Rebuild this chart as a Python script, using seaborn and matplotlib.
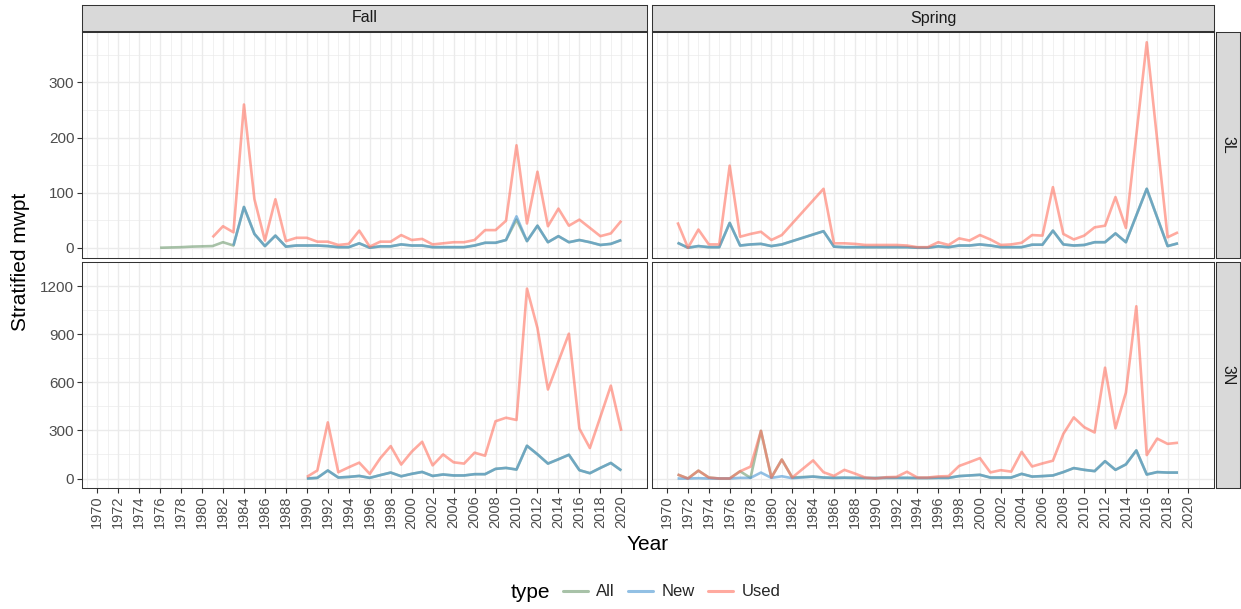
import matplotlib
matplotlib.use("Agg")
import numpy as np
import pandas as pd
import matplotlib.pyplot as plt
import seaborn as sns
from matplotlib.lines import Line2D

# ---------------- data ----------------
types = ["All", "New", "Used"]
seasons = ["Fall", "Spring"]
divisions = ["3L", "3N"]
x_ticks = list(range(1970, 2021, 2))
y_ticks_3L = [0, 100, 200, 300]
y_ticks_3N = [0, 300, 600, 900, 1200]

# Fall 3L
fall_3L_all_years = list(range(1976, 2021))
fall_3L_all = [0, 0.5, 1, 2, 2.5, 3, 10, 4, 74, 25, 3, 22, 2, 4, 4, 4, 3, 1, 1, 8,
               0, 2.5, 2.5, 6, 4, 4, 1, 1, 1, 1, 4, 9, 9, 14, 51, 12, 40, 10, 21, 10,
               14, 10, 5, 7, 14]
fall_3L_new_years = list(range(1983, 2021))
fall_3L_new = [4, 74, 25, 3, 22, 2, 4, 4, 4, 3, 1, 1, 8, 0, 2.5, 2.5, 6, 4, 4, 1,
               1, 1, 1, 4, 9, 9, 14, 57, 12, 40, 10, 21, 10, 14, 10, 5, 7, 14]
fall_3L_used_years = list(range(1981, 2021))
fall_3L_used = [19, 39, 28, 260, 88, 13, 88, 12, 18, 18, 11, 11, 5, 7, 31, 2, 11, 11, 23, 14,
                16, 6, 8, 10, 10, 14, 32, 32, 49, 186, 44, 138, 39, 71, 40, 51, 36, 21, 26, 49]

# Fall 3N
fall_3N_years = list(range(1990, 2021))
fall_3N_all = [0, 4, 50, 6, 10, 16, 4, 21, 37, 14, 29, 41, 16, 25, 19, 19, 27, 27, 60, 66,
               56, 204, 151, 93, 120, 148, 52, 33, 66, 97, 50]
fall_3N_new = [0, 4, 50, 6, 10, 16, 4, 21, 37, 14, 29, 41, 16, 25, 19, 19, 27, 27, 60, 66,
               56, 204, 151, 93, 120, 148, 52, 33, 66, 97, 50]
fall_3N_used = [10, 50, 350, 39, 70, 99, 29, 126, 202, 87, 167, 229, 82, 150, 101, 93, 161, 142, 357, 379,
                365, 1184, 938, 555, 730, 903, 311, 190, 384, 579, 297]

# Spring 3L (no surveys 1982-1984, 2015, 2017)
spring_3L_years = [1971, 1972, 1973, 1974, 1975, 1976, 1977, 1978, 1979, 1980, 1981,
                   1985, 1986, 1987, 1988, 1989, 1990, 1991, 1992, 1993, 1994, 1995, 1996,
                   1997, 1998, 1999, 2000, 2001, 2002, 2003, 2004, 2005, 2006, 2007, 2008,
                   2009, 2010, 2011, 2012, 2013, 2014, 2016, 2018, 2019]
spring_3L_all = [9, 0, 3, 1, 1, 45, 4, 6, 7, 3, 6,
                 30, 2, 1, 1, 1, 1, 1, 1, 1, 0, 0, 2.5,
                 1, 4, 4, 6, 4, 1, 1, 1, 5.5, 5.5, 31, 6,
                 4, 5, 10, 10, 26, 10, 107, 3, 8]
spring_3L_new = [9, 0, 3, 1, 1, 45, 4, 6, 7, 3, 6,
                 30, 2, 1, 1, 1, 1, 1, 1, 1, 0, 0, 2.5,
                 1, 4, 4, 6, 4, 1, 1, 1, 5.5, 5.5, 31, 6,
                 4, 5, 10, 10, 26, 10, 107, 3, 8]
spring_3L_used = [46, 0, 33, 6, 6, 149, 20, 25, 29, 14, 23,
                  107, 8, 8, 7, 5, 5, 5, 5, 4, 1, 1, 10,
                  5, 17, 13, 23, 15, 5, 6, 9, 23, 22, 110, 25,
                  15, 22, 37, 40, 92, 36, 373, 19, 28]

# Spring 3N (no survey 1983)
spring_3N_years = [1971, 1972, 1973, 1974, 1975, 1976, 1977, 1978, 1979, 1980, 1981, 1982,
                   1984, 1985, 1986, 1987, 1988, 1989, 1990, 1991, 1992, 1993,
                   1994, 1995, 1996, 1997, 1998, 1999, 2000, 2001, 2002, 2003,
                   2004, 2005, 2006, 2007, 2008, 2009, 2010, 2011, 2012, 2013,
                   2014, 2015, 2016, 2017, 2018, 2019]
spring_3N_all = [25, 0, 49, 6, 0, 0, 45, 4, 297, 6, 118, 6,
                 12, 6, 4, 5, 4, 3, 3, 4, 4, 4,
                 3, 3, 4, 4, 15, 19, 23, 6, 6, 6,
                 29, 12, 15, 19, 40, 65, 54, 46, 108, 54,
                 88, 175, 25, 40, 37, 37]
spring_3N_new = [0, 0, 2, 0, 0, 0, 4, 4, 37, 4, 14, 2,
                 12, 6, 4, 5, 4, 3, 3, 4, 4, 4,
                 3, 3, 4, 4, 15, 19, 23, 6, 6, 6,
                 29, 12, 15, 19, 40, 65, 54, 46, 108, 54,
                 88, 175, 25, 40, 37, 37]
spring_3N_used = [25, 0, 49, 6, 0, 0, 45, 74, 297, 6, 118, 6,
                  113, 39, 16, 54, 31, 6, 0, 8, 10, 42,
                  6, 6, 13, 15, 78, 102, 127, 38, 52, 43,
                  166, 75, 94, 111, 278, 381, 320, 287, 691, 313,
                  536, 1074, 146, 249, 216, 223]

palette = {"All": "#6E9A6E", "New": "#4A96D2", "Used": "#FF7260"}


def frame(parts):
    rows = []
    for t, yrs, vals in parts:
        rows.append(pd.DataFrame({"Year": yrs, "value": vals, "type": t}))
    return pd.concat(rows, ignore_index=True)


panel_data = {
    ("Fall", "3L"): frame([("All", fall_3L_all_years, fall_3L_all),
                           ("New", fall_3L_new_years, fall_3L_new),
                           ("Used", fall_3L_used_years, fall_3L_used)]),
    ("Fall", "3N"): frame([("All", fall_3N_years, fall_3N_all),
                           ("New", fall_3N_years, fall_3N_new),
                           ("Used", fall_3N_years, fall_3N_used)]),
    ("Spring", "3L"): frame([("All", spring_3L_years, spring_3L_all),
                             ("New", spring_3L_years, spring_3L_new),
                             ("Used", spring_3L_years, spring_3L_used)]),
    ("Spring", "3N"): frame([("All", spring_3N_years, spring_3N_all),
                             ("New", spring_3N_years, spring_3N_new),
                             ("Used", spring_3N_years, spring_3N_used)]),
}

# ---------------- styling / layout ----------------
sns.set_theme(style="white")
plt.rcParams['font.family'] = ['Liberation Sans', 'DejaVu Sans']

W, H = 1241, 609
fig = plt.figure(figsize=(W / 100, H / 100), dpi=100)
fig.patch.set_facecolor("white")


def px_axes(x0, y0, x1, y1):
    return fig.add_axes([x0 / W, 1 - y1 / H, (x1 - x0) / W, (y1 - y0) / H])


col_x = {"Fall": (82, 647), "Spring": (652, 1214)}
row_y = {"3L": (32, 258), "3N": (262, 488)}

all_years = pd.concat([d["Year"] for d in panel_data.values()])
xmin, xmax = all_years.min(), all_years.max()
xpad = 0.05 * (xmax - xmin)

row_lim = {}
for div in divisions:
    vals = pd.concat([panel_data[(s, div)]["value"] for s in seasons])
    lo, hi = min(0, vals.min()), vals.max()
    pad = 0.05 * (hi - lo)
    row_lim[div] = (lo - pad, hi + pad)

yticks = {"3L": y_ticks_3L, "3N": y_ticks_3N}
grid_c = "#EBEBEB"
border_c = "#333333"
tick_c = "#4D4D4D"

for season in seasons:
    for div in divisions:
        x0, x1 = col_x[season]
        y0, y1 = row_y[div]
        ax = px_axes(x0, y0, x1, y1)
        ax.set_facecolor("white")
        sns.lineplot(data=panel_data[(season, div)], x="Year", y="value", hue="type",
                     hue_order=types, palette=palette, alpha=0.6, linewidth=1.9,
                     legend=False, estimator=None, sort=True, ax=ax,
                     solid_capstyle="butt", solid_joinstyle="round")
        ax.set_xlim(xmin - xpad, xmax + xpad)
        ax.set_ylim(*row_lim[div])
        ax.set_xticks(x_ticks)
        ax.set_xticks([y + 1 for y in x_ticks[:-1]] + [1969, 2021], minor=True)
        yt = yticks[div]
        ax.set_yticks(yt)
        step = yt[1] - yt[0]
        ax.set_yticks([v + step / 2 for v in yt], minor=True)
        ax.grid(True, which="major", color=grid_c, linewidth=1.0, zorder=0)
        ax.grid(True, which="minor", color=grid_c, linewidth=0.5, zorder=0)
        ax.set_axisbelow(True)
        for sp in ax.spines.values():
            sp.set_visible(True)
            sp.set_color(border_c)
            sp.set_linewidth(0.75)
        ax.set_xlabel("")
        ax.set_ylabel("")
        ax.tick_params(which="minor", length=0)
        show_x = div == "3N"
        show_y = season == "Fall"
        ax.tick_params(axis="x", which="major", bottom=show_x, labelbottom=show_x,
                       length=3.5, width=0.8, color=border_c, labelsize=10.5,
                       labelcolor=tick_c, labelrotation=90, pad=2)
        ax.tick_params(axis="y", which="major", left=show_y, labelleft=show_y,
                       length=3.5, width=0.8, color=border_c, labelsize=11,
                       labelcolor=tick_c, pad=2)
        if show_x:
            ax.set_xticklabels([str(v) for v in x_ticks])

# strips
strip_fill = "#D9D9D9"
for season in seasons:
    x0, x1 = col_x[season]
    sax = px_axes(x0, 5, x1, 31)
    sax.set_facecolor(strip_fill)
    sax.set_xticks([]); sax.set_yticks([])
    for sp in sax.spines.values():
        sp.set_color(border_c); sp.set_linewidth(0.75)
    sax.text(0.5, 0.5, season, ha="center", va="center", fontsize=11.5,
             color="#1A1A1A", transform=sax.transAxes)
for div in divisions:
    y0, y1 = row_y[div]
    sax = px_axes(1216, y0, 1240, y1)
    sax.set_facecolor(strip_fill)
    sax.set_xticks([]); sax.set_yticks([])
    for sp in sax.spines.values():
        sp.set_color(border_c); sp.set_linewidth(0.75)
    sax.text(0.5, 0.5, div, ha="center", va="center", fontsize=11.5, rotation=-90,
             color="#1A1A1A", transform=sax.transAxes)

# axis titles
fig.text(648 / W, 1 - 545 / H, "Year", ha="center", va="center", fontsize=15, color="black")
fig.text(21 / W, 1 - 262 / H, "Stratified mwpt", ha="center", va="center",
         rotation=90, fontsize=15, color="black")

# legend
fig.text(511 / W, 1 - 592 / H, "type", ha="left", va="center", fontsize=15, color="black")
handles = [Line2D([0], [0], color=palette[t], alpha=0.6, linewidth=2.2) for t in types]
fig.legend(handles, types, loc="center left", bbox_to_anchor=(563 / W, 1 - 592 / H),
           ncol=3, frameon=False, fontsize=12, handlelength=1.5, handletextpad=0.5,
           columnspacing=0.8, borderaxespad=0, borderpad=0)

fig.savefig("out.png", dpi=100, facecolor="white")
